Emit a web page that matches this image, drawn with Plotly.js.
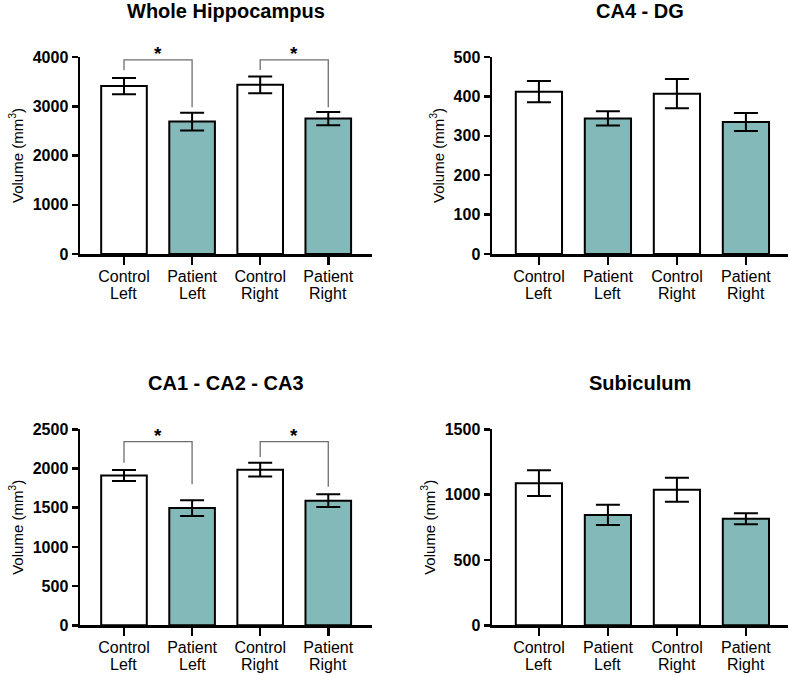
<!DOCTYPE html>
<html>
<head>
<meta charset="utf-8">
<script src="https://cdn.plot.ly/plotly-3.0.1.min.js"></script>
<style>html,body{margin:0;padding:0;background:#fff;}#chart{width:790px;height:676px;}</style>
</head>
<body>
<div id="chart"></div>
<script>
// ---- data ----
const categoryTop    = ['Control', 'Patient', 'Control', 'Patient'];
const categoryBottom = ['Left', 'Left', 'Right', 'Right'];
const panelTitles = ['Whole Hippocampus', 'CA4 - DG', 'CA1 - CA2 - CA3', 'Subiculum'];

const wholeMean = [3410, 2690, 3435, 2750];
const wholeErr  = [165, 180, 170, 135];
const ca4Mean   = [412, 344, 407, 335];
const ca4Err    = [27, 18, 37, 23];
const ca123Mean = [1910, 1495, 1985, 1590];
const ca123Err  = [70, 100, 88, 80];
const subMean   = [1088, 845, 1038, 815];
const subErr    = [98, 78, 92, 42];

const wholeTicks = [0, 1000, 2000, 3000, 4000];
const ca4Ticks   = [0, 100, 200, 300, 400, 500];
const ca123Ticks = [0, 500, 1000, 1500, 2000, 2500];
const subTicks   = [0, 500, 1000, 1500];

// significance brackets: [fromIndex, toIndex, topValue, leftLegEnd, rightLegEnd]
const wholeBrackets = [[0, 1, 3940, 3730, 2980], [2, 3, 3940, 3735, 2980]];
const ca123Brackets = [[0, 1, 2342, 2074, 1798], [2, 3, 2342, 2147, 1768]];

// ---- styling ----
const teal = '#83b9b8';
const barColors = ['#ffffff', teal, '#ffffff', teal];
const W = 790, H = 676;
const FONT = 'Liberation Sans';
const colDomains = [[80 / W, 372 / W], [492 / W, 788 / W]];
const colRanges = [[-0.646, 3.642], [-0.68, 3.61]];
const rowDomains = [[(H - 254) / H, (H - 57) / H], [(H - 625.3) / H, (H - 429.3) / H]];
const titleY = [1 - 11 / H, 1 - 383 / H];

const means = [wholeMean, ca4Mean, ca123Mean, subMean];
const errs = [wholeErr, ca4Err, ca123Err, subErr];
const ticks = [wholeTicks, ca4Ticks, ca123Ticks, subTicks];
const brackets = [wholeBrackets, [], ca123Brackets, []];

const xs = categoryTop.map((c, i) => i);
const traces = [];
const layout = {
  width: W, height: H,
  margin: {l: 0, r: 0, t: 0, b: 0},
  paper_bgcolor: '#fff', plot_bgcolor: 'rgba(0,0,0,0)',
  showlegend: false,
  font: {family: FONT, color: '#000'},
  shapes: [], annotations: []
};

for (let p = 0; p < 4; p++) {
  const col = p % 2, row = Math.floor(p / 2);
  const sfx = p === 0 ? '' : String(p + 1);
  const ymax = ticks[p][ticks[p].length - 1];
  traces.push({
    type: 'bar', x: xs, y: means[p],
    xaxis: 'x' + sfx, yaxis: 'y' + sfx,
    width: 0.67,
    marker: {color: barColors, line: {color: '#000', width: 2}},
    error_y: {type: 'data', array: errs[p], visible: true, color: '#000', thickness: 2, width: 12},
    hoverinfo: 'skip'
  });
  layout['xaxis' + sfx] = {
    domain: colDomains[col], range: colRanges[col], anchor: 'y' + sfx,
    tickmode: 'array', tickvals: xs, ticktext: categoryTop,
    showline: true, linecolor: '#000', linewidth: 2.5,
    ticks: 'outside', ticklen: 8, tickwidth: 2.5, tickcolor: '#000',
    ticklabelstandoff: -2,
    showgrid: false, zeroline: false, fixedrange: true,
    tickfont: {size: 16, family: FONT, color: '#000'}
  };
  layout['yaxis' + sfx] = {
    domain: rowDomains[row], range: [0, ymax], anchor: 'x' + sfx,
    tickmode: 'array', tickvals: ticks[p], ticktext: ticks[p].map(v => '<b>' + v + '</b>'),
    showline: true, linecolor: '#000', linewidth: 2.5,
    ticks: 'outside', ticklen: 6, tickwidth: 2.5, tickcolor: '#000',
    showgrid: false, zeroline: false, fixedrange: true,
    tickfont: {size: 16, family: FONT, color: '#000'},
    title: {text: 'Volume (mm<sup>3</sup>)', font: {size: 15, family: FONT, color: '#000'}, standoff: 6}
  };
  layout.annotations.push({
    xref: 'x' + sfx + ' domain', yref: 'paper', x: 0.5, y: titleY[row],
    xanchor: 'center', yanchor: 'middle', showarrow: false,
    text: '<b>' + panelTitles[p] + '</b>', font: {size: 20, family: FONT, color: '#000'}
  });
  categoryBottom.forEach((t, i) => {
    layout.annotations.push({
      xref: 'x' + sfx, yref: 'y' + sfx + ' domain', x: i, y: 0,
      xanchor: 'center', yanchor: 'middle', yshift: -39, showarrow: false,
      text: t, font: {size: 16, family: FONT, color: '#000'}
    });
  });
  brackets[p].forEach(b => {
    const [a, c, top, le, re] = b;
    layout.shapes.push({
      type: 'path', xref: 'x' + sfx, yref: 'y' + sfx,
      path: `M ${a},${le} L ${a},${top} L ${c},${top} L ${c},${re}`,
      line: {color: '#6e6e6e', width: 1.3}
    });
    layout.annotations.push({
      xref: 'x' + sfx, yref: 'y' + sfx, x: (a + c) / 2, y: top,
      xanchor: 'center', yanchor: 'bottom', yshift: -6, showarrow: false,
      text: '<b>*</b>', font: {size: 19, family: FONT, color: '#000'}
    });
  });
}

Plotly.newPlot('chart', traces, layout, {displayModeBar: false, staticPlot: true});
</script>
</body>
</html>
